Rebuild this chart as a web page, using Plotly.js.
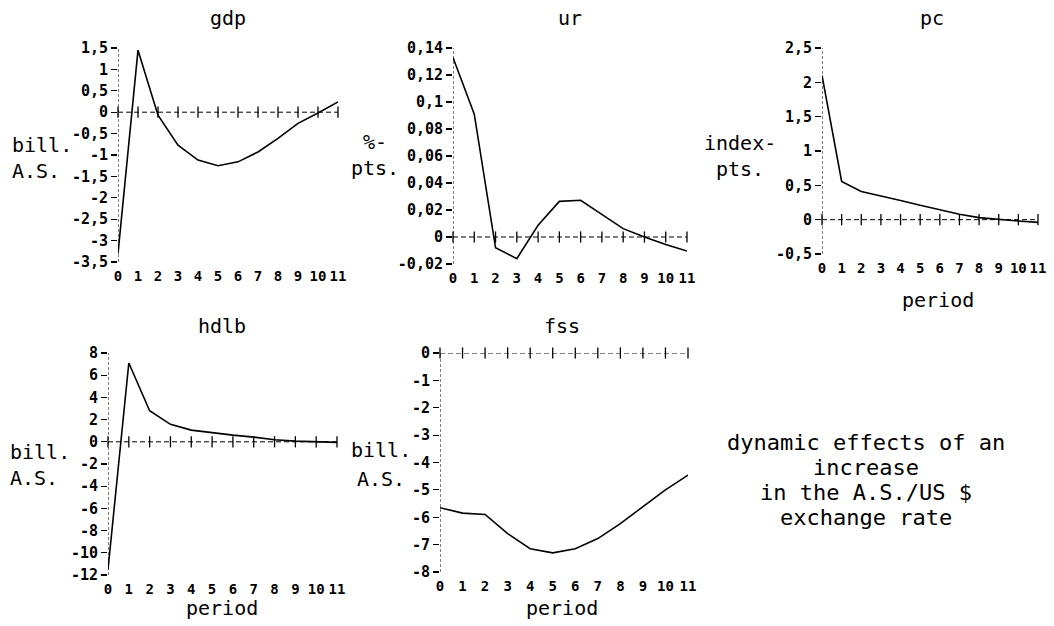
<!DOCTYPE html>
<html>
<head>
<meta charset="utf-8">
<script src="https://cdn.plot.ly/plotly-3.0.1.min.js"></script>
<style>html,body{margin:0;padding:0;background:#fff;}#chart{width:1054px;height:626px;}</style>
</head>
<body>
<div id="chart"></div>
<script>
// ---- data ----
const periods = [0,1,2,3,4,5,6,7,8,9,10,11];
const periodLabels = ["0","1","2","3","4","5","6","7","8","9","10","11"];

const gdp  = [-3.3, 1.45, -0.07, -0.77, -1.12, -1.25, -1.16, -0.93, -0.61, -0.26, -0.02, 0.24];
const ur   = [0.133, 0.091, -0.008, -0.016, 0.0087, 0.0264, 0.0272, 0.0166, 0.0062, 0.0, -0.0056, -0.0104];
const pc   = [2.10, 0.556, 0.41, 0.35, 0.28, 0.21, 0.14, 0.08, 0.03, 0.0, -0.02, -0.04];
const hdlb = [-11.5, 7.1, 2.8, 1.57, 1.05, 0.81, 0.6, 0.42, 0.18, 0.06, 0.0, -0.05];
const fss  = [-5.65, -5.85, -5.9, -6.6, -7.15, -7.3, -7.15, -6.78, -6.23, -5.62, -5.0, -4.46];

const gdpTicks  = [-3.5,-3,-2.5,-2,-1.5,-1,-0.5,0,0.5,1,1.5];
const gdpLabels = ["-3,5","-3","-2,5","-2","-1,5","-1","-0,5","0","0,5","1","1,5"];
const urTicks   = [-0.02,0,0.02,0.04,0.06,0.08,0.1,0.12,0.14];
const urLabels  = ["-0,02","0","0,02","0,04","0,06","0,08","0,1","0,12","0,14"];
const pcTicks   = [-0.5,0,0.5,1,1.5,2,2.5];
const pcLabels  = ["-0,5","0","0,5","1","1,5","2","2,5"];
const hdlbTicks = [-12,-10,-8,-6,-4,-2,0,2,4,6,8];
const hdlbLabels= ["-12","-10","-8","-6","-4","-2","0","2","4","6","8"];
const fssTicks  = [-8,-7,-6,-5,-4,-3,-2,-1,0];
const fssLabels = ["-8","-7","-6","-5","-4","-3","-2","-1","0"];

const panelTitles = ["gdp","ur","pc","hdlb","fss"];
const unitLines   = [["bill.","A.S."],["%-","pts."],["index-","pts."],["bill.","A.S."],["bill.","A.S."]];
const noteLines   = ["dynamic effects of an","increase","in the A.S./US $","exchange rate"];

// ---- layout geometry ----
const W = 1054, H = 626;
const FONT = "DejaVu Sans Mono, Liberation Mono, monospace";
const panels = [
  {series: gdp,  ticks: gdpTicks,  labels: gdpLabels,  range: [-3.5, 1.5],   px: [118, 338], py: [48, 262]},
  {series: ur,   ticks: urTicks,   labels: urLabels,   range: [-0.02, 0.14], px: [453, 687], py: [48, 264]},
  {series: pc,   ticks: pcTicks,   labels: pcLabels,   range: [-0.5, 2.5],   px: [822, 1038], py: [48, 254]},
  {series: hdlb, ticks: hdlbTicks, labels: hdlbLabels, range: [-12, 8],      px: [108, 337], py: [353, 575]},
  {series: fss,  ticks: fssTicks,  labels: fssLabels,  range: [-8, 0],       px: [440, 688], py: [353, 572]}
];
const titlePos = [[228,18],[570,18],[932,18],[222,326],[562,326]];
// unit label: x, anchor, first line y, second line y
const unitPos  = [[10,"left",145,171],[375,"center",142,168],[740,"center",143,169],[8,"left",452,478],[381,"center",450,479]];
const periodPos= [[938,300],[222,608],[562,608]];
const notePos  = {x: 866, y: [442, 467, 492, 517]};

const traces = [];
const layout = {
  width: W, height: H, autosize: false,
  margin: {l:0, r:0, t:0, b:0},
  paper_bgcolor: "#fff", plot_bgcolor: "#fff",
  showlegend: false,
  font: {family: FONT, color: "#000"},
  annotations: [], shapes: []
};

function addText(text, x, y, size, anchor) {
  layout.annotations.push({
    text: text, xref: "paper", yref: "paper",
    x: x / W, y: 1 - y / H, xanchor: anchor || "center", yanchor: "middle",
    showarrow: false, font: {family: FONT, size: size, color: "#000"}
  });
}

panels.forEach((p, i) => {
  const n = i === 0 ? "" : String(i + 1);
  const xa = "x" + n, ya = "y" + n;
  // zero reference line with cross ticks
  traces.push({
    x: periods, y: periods.map(() => 0), xaxis: xa, yaxis: ya,
    mode: "lines+markers", cliponaxis: false, hoverinfo: "skip",
    line: {color: "#000", width: 1, dash: "5px,3px"},
    marker: {symbol: "line-ns", size: 8, line: {color: "#000", width: 1.3}}
  });
  // data line
  traces.push({
    x: periods, y: p.series, xaxis: xa, yaxis: ya,
    mode: "lines", cliponaxis: false,
    line: {color: "#000", width: 1.6}
  });
  layout["xaxis" + n] = {
    domain: [p.px[0] / W, p.px[1] / W], anchor: ya,
    range: [0, 11], tickvals: periods, ticktext: periodLabels,
    showgrid: false, zeroline: false, showline: false, ticks: "",
    ticklabelstandoff: 4,
    tickfont: {family: FONT, size: 14, color: "#000", weight: "bold"}
  };
  layout["yaxis" + n] = {
    domain: [1 - p.py[1] / H, 1 - p.py[0] / H], anchor: xa,
    range: p.range, tickvals: p.ticks, ticktext: p.labels,
    showgrid: false, zeroline: false, showline: false,
    ticks: "outside", ticklen: 6, tickcolor: "#000", tickwidth: 1.2,
    ticklabelstandoff: 0,
    tickfont: {family: FONT, size: 15, color: "#000", weight: "bold"}
  };
  // dashed y axis line
  layout.shapes.push({
    type: "line", xref: xa, yref: ya + " domain", x0: 0, x1: 0, y0: 0, y1: 1,
    line: {color: "#000", width: 1, dash: "3px,2px"}
  });
  addText(panelTitles[i], titlePos[i][0], titlePos[i][1], 20);
  const u = unitPos[i];
  addText(unitLines[i][0], u[0], u[2], 20, u[1]);
  addText(unitLines[i][1], u[0], u[3], 20, u[1]);
});

periodPos.forEach(pp => addText("period", pp[0], pp[1], 20));
noteLines.forEach((t, k) => addText(t, notePos.x, notePos.y[k], 22));

Plotly.newPlot("chart", traces, layout, {displayModeBar: false, staticPlot: true});
</script>
</body>
</html>
